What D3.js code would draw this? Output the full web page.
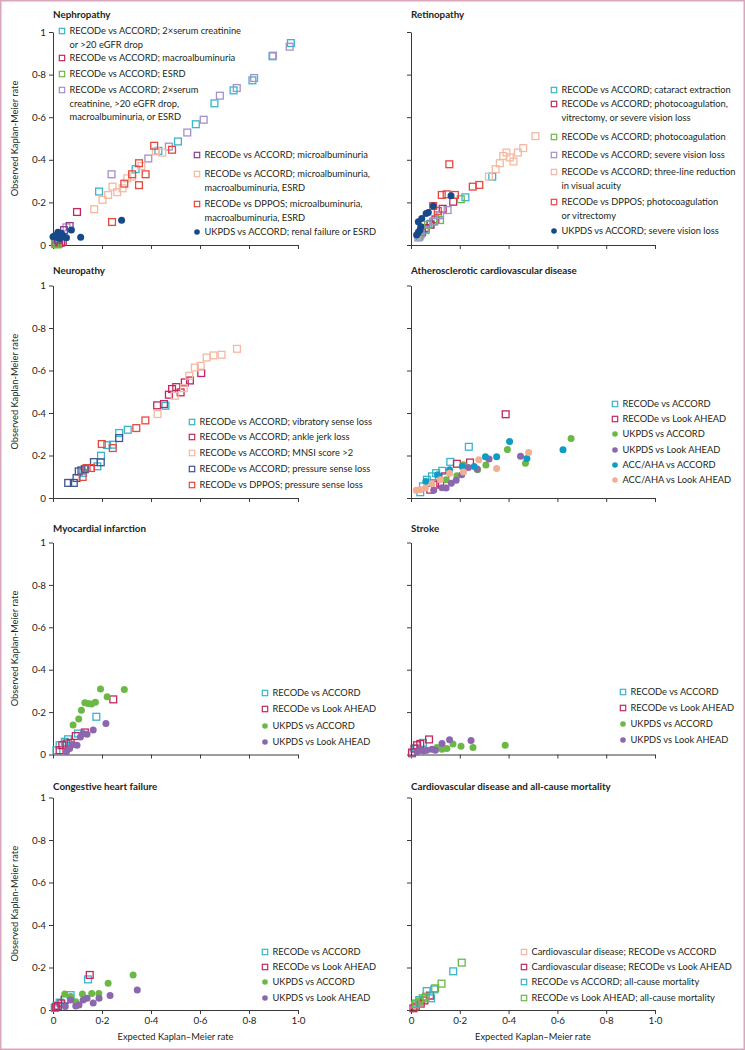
<!DOCTYPE html>
<html><head><meta charset="utf-8">
<script src="https://cdn.jsdelivr.net/npm/d3@7"></script>
<style>
html,body{margin:0;padding:0;background:#fff;}
svg{display:block;}
text{font-family:Lato,"Open Sans",sans-serif;fill:#231f20;}
</style></head>
<body>
<script>
// ---------- DATA (expected, observed) ----------
const xTicks = [0,0.2,0.4,0.6,0.8,1.0];
const yTicks = [0,0.2,0.4,0.6,0.8,1];
const xTickLabels = ["0","0·2","0·4","0·6","0·8","1·0"];
const yTickLabels = ["0","0·2","0·4","0·6","0·8","1"];

// Nephropathy
const nephCreatinine = [[0.971,0.948],[0.896,0.886],[0.814,0.773],[0.737,0.726],[0.659,0.665],[0.583,0.567],[0.510,0.486],[0.430,0.442],[0.337,0.356],[0.188,0.251],[0.020,0.030],[0.012,0.020]];
const nephMacro = [[0.098,0.155],[0.016,0.013],[0.025,0.008],[0.033,0.011],[0.022,0.020],[0.040,0.015],[0.010,0.006]];
const nephESRD = [[0.008,0.004],[0.015,0.006],[0.020,0.003]];
const nephComposite = [[0.966,0.931],[0.898,0.889],[0.821,0.784],[0.750,0.737],[0.681,0.701],[0.615,0.588],[0.548,0.528],[0.473,0.462],[0.389,0.406],[0.239,0.332],[0.055,0.083]];
const nephMicro = [[0.068,0.089],[0.045,0.070],[0.030,0.040],[0.020,0.025]];
const nephMicroMacro = [[0.168,0.168],[0.202,0.212],[0.225,0.235],[0.243,0.274],[0.262,0.248],[0.284,0.266],[0.303,0.313],[0.323,0.321],[0.361,0.371],[0.446,0.434],[0.420,0.440]];
const nephDPPOS = [[0.241,0.108],[0.291,0.288],[0.323,0.332],[0.351,0.384],[0.351,0.281],[0.378,0.332],[0.413,0.466],[0.486,0.447]];
const nephUKPDS = [[0.280,0.116],[0.113,0.036],[0.075,0.071],[0.055,0.034],[0.041,0.044],[0.020,0.060],[0.007,0.044],[0.027,0.031],[0.000,0.039],[0.034,0.055],[0.015,0.035]];

// Retinopathy
const retCataract = [[0.333,0.321],[0.223,0.224],[0.110,0.140],[0.080,0.100],[0.060,0.075],[0.045,0.060],[0.035,0.040]];
const retPhotoVitSev = [[0.173,0.203],[0.130,0.170],[0.100,0.120],[0.080,0.095],[0.060,0.080],[0.045,0.060]];
const retPhoto = [[0.204,0.215],[0.119,0.117],[0.091,0.110],[0.070,0.095],[0.057,0.070],[0.035,0.050]];
const retSevere = [[0.150,0.164],[0.119,0.140],[0.095,0.110],[0.060,0.070],[0.040,0.050],[0.030,0.035]];
const retThreeLine = [[0.510,0.511],[0.460,0.455],[0.438,0.434],[0.420,0.392],[0.405,0.411],[0.391,0.434],[0.378,0.418],[0.364,0.384],[0.347,0.356],[0.319,0.321]];
const retDPPOS = [[0.157,0.379],[0.280,0.282],[0.253,0.274],[0.126,0.235],[0.146,0.238],[0.180,0.235],[0.091,0.183],[0.110,0.160]];
const retUKPDS = [[0.164,0.231],[0.091,0.183],[0.071,0.152],[0.062,0.148],[0.044,0.125],[0.030,0.109],[0.040,0.086],[0.037,0.070],[0.023,0.047],[0.030,0.060]];

// Neuropathy
const neuVibratory = [[0.459,0.434],[0.305,0.321],[0.270,0.306],[0.244,0.251],[0.221,0.249],[0.196,0.199],[0.181,0.149],[0.123,0.118]];
const neuAnkle = [[0.605,0.588],[0.559,0.553],[0.538,0.544],[0.521,0.497],[0.503,0.522],[0.486,0.513],[0.473,0.486],[0.453,0.442],[0.425,0.436]];
const neuMNSI = [[0.751,0.702],[0.688,0.674],[0.655,0.671],[0.627,0.661],[0.603,0.622],[0.579,0.614],[0.556,0.575],[0.534,0.517],[0.497,0.481],[0.427,0.395]];
const neuPressure = [[0.270,0.282],[0.195,0.168],[0.167,0.169],[0.130,0.136],[0.116,0.130],[0.105,0.125],[0.096,0.094],[0.085,0.071],[0.062,0.071]];
const neuDPPOS = [[0.199,0.254],[0.244,0.235],[0.340,0.329],[0.377,0.365],[0.155,0.141],[0.121,0.099],[0.137,0.141]];

// Atherosclerotic cardiovascular disease
const ascRecAccord = [[0.237,0.241],[0.161,0.170],[0.128,0.128],[0.103,0.117],[0.086,0.102],[0.065,0.086],[0.049,0.055],[0.038,0.027]];
const ascRecLook = [[0.388,0.394],[0.242,0.167],[0.188,0.161],[0.140,0.102],[0.120,0.070],[0.099,0.063],[0.079,0.039]];
const ascUkAccord = [[0.656,0.280],[0.395,0.228],[0.469,0.164],[0.307,0.155],[0.273,0.133],[0.215,0.156],[0.188,0.105],[0.144,0.086]];
const ascUkLook = [[0.449,0.197],[0.320,0.184],[0.271,0.136],[0.235,0.144],[0.208,0.109],[0.185,0.083],[0.165,0.070],[0.144,0.047],[0.127,0.048],[0.093,0.036]];
const ascAhaAccord = [[0.404,0.266],[0.623,0.227],[0.475,0.186],[0.351,0.194],[0.305,0.194],[0.259,0.148],[0.210,0.148],[0.158,0.133],[0.109,0.109],[0.061,0.078]];
const ascAhaLook = [[0.482,0.214],[0.351,0.139],[0.278,0.180],[0.215,0.122],[0.158,0.117],[0.120,0.086],[0.086,0.067],[0.059,0.047],[0.038,0.039],[0.022,0.036]];

// Myocardial infarction
const miRecAccord = [[0.177,0.178],[0.102,0.099],[0.061,0.072],[0.048,0.060],[0.027,0.044],[0.014,0.020]];
const miRecLook = [[0.246,0.260],[0.130,0.104],[0.093,0.087],[0.072,0.055],[0.055,0.052],[0.038,0.044],[0.027,0.020]];
const miUkAccord = [[0.291,0.307],[0.194,0.309],[0.221,0.272],[0.173,0.246],[0.157,0.238],[0.143,0.241],[0.130,0.244],[0.116,0.209],[0.105,0.167],[0.082,0.139]];
const miUkLook = [[0.216,0.146],[0.164,0.115],[0.139,0.096],[0.123,0.099],[0.112,0.083],[0.098,0.044],[0.082,0.047],[0.068,0.028],[0.055,0.013]];

// Stroke
const stRecAccord = [[0.049,0.055],[0.020,0.028],[0.004,0.005]];
const stRecLook = [[0.074,0.071],[0.038,0.050],[0.025,0.044],[0.014,0.028],[0.004,0.009]];
const stUkAccord = [[0.386,0.044],[0.254,0.033],[0.205,0.039],[0.172,0.049],[0.147,0.028],[0.127,0.025],[0.106,0.033]];
const stUkLook = [[0.246,0.066],[0.158,0.069],[0.127,0.052],[0.100,0.020],[0.086,0.025],[0.065,0.020],[0.052,0.017],[0.038,0.020],[0.025,0.013]];

// Congestive heart failure
const hfRecAccord = [[0.143,0.144],[0.072,0.070],[0.048,0.050],[0.027,0.035],[0.014,0.020],[0.007,0.010]];
const hfRecLook = [[0.150,0.165],[0.048,0.047],[0.034,0.031],[0.020,0.019],[0.011,0.013]];
const hfUkAccord = [[0.327,0.165],[0.225,0.126],[0.187,0.078],[0.158,0.078],[0.120,0.075],[0.093,0.039],[0.072,0.063],[0.048,0.075]];
const hfUkLook = [[0.344,0.094],[0.233,0.068],[0.188,0.055],[0.164,0.033],[0.139,0.055],[0.123,0.047],[0.106,0.024],[0.093,0.019],[0.072,0.047],[0.050,0.016]];

// Cardiovascular disease and all-cause mortality
const cvdRecAccord = [[0.078,0.066],[0.054,0.055],[0.034,0.039],[0.018,0.024]];
const cvdRecLook = [[0.078,0.068],[0.010,0.008],[0.020,0.016],[0.040,0.030],[0.055,0.045]];
const mortRecAccord = [[0.173,0.182],[0.064,0.089],[0.095,0.097],[0.082,0.055],[0.034,0.047],[0.020,0.031]];
const mortRecLook = [[0.208,0.223],[0.125,0.124],[0.099,0.102],[0.061,0.063],[0.048,0.055],[0.034,0.039],[0.020,0.027]];

// ---------- STYLES ----------
const C = {
  cyan:"#38b4cd", crimson:"#c1285e", green:"#6cb845", lavender:"#a48fcb",
  plum:"#8c3c8c", peach:"#f5b8a1", red:"#e8473f", navy:"#17498a",
  slate:"#3f5592", purple:"#8d66b0", teal:"#0d9cc4", peachDot:"#f4ae93"
};
const FS_LEG = 9.3, FS_AX = 9.3, FS_TICK = 9.8, FS_TITLE = 9.8;

// ---------- LAYOUT ----------
const W = 745, H = 1050;
const cols = [[53,298],[411,655]];
const rows = [[245,32],[498,285.5],[754.5,542.5],[1010,797.5]];
const titleY = [15,271,529,787];

const panels = [
  {title:"Nephropathy", c:0, r:0, series:[
    {d:nephCreatinine,col:C.cyan,sh:"sq",lab:["RECODe vs ACCORD; 2×serum creatinine","or >20 eGFR drop"],lx:62,ly:31},
    {d:nephMacro,col:C.crimson,sh:"sq",lab:["RECODe vs ACCORD; macroalbuminuria"],lx:62,ly:58},
    {d:nephESRD,col:C.green,sh:"sq",lab:["RECODe vs ACCORD; ESRD"],lx:62,ly:74},
    {d:nephComposite,col:C.lavender,sh:"sq",lab:["RECODe vs ACCORD; 2×serum","creatinine, >20 eGFR drop,","macroalbuminuria, or ESRD"],lx:62,ly:90},
    {d:nephMicro,col:C.plum,sh:"sq",lab:["RECODe vs ACCORD; microalbuminuria"],lx:197,ly:155},
    {d:nephMicroMacro,col:C.peach,sh:"sq",lab:["RECODe vs ACCORD; microalbuminuria,","macroalbuminuria, ESRD"],lx:197,ly:174},
    {d:nephDPPOS,col:C.red,sh:"sq",lab:["RECODe vs DPPOS; microalbuminuria,","macroalbuminuria, ESRD"],lx:197,ly:204},
    {d:nephUKPDS,col:C.navy,sh:"dot",lab:["UKPDS vs ACCORD; renal failure or ESRD"],lx:197,ly:232}
  ]},
  {title:"Retinopathy", c:1, r:0, series:[
    {d:retCataract,col:C.cyan,sh:"sq",lab:["RECODe vs ACCORD; cataract extraction"],lx:554,ly:90},
    {d:retPhotoVitSev,col:C.crimson,sh:"sq",lab:["RECODe vs ACCORD; photocoagulation,","vitrectomy, or severe vision loss"],lx:554,ly:104},
    {d:retPhoto,col:C.green,sh:"sq",lab:["RECODe vs ACCORD; photocoagulation"],lx:554,ly:137},
    {d:retSevere,col:C.lavender,sh:"sq",lab:["RECODe vs ACCORD; severe vision loss"],lx:554,ly:155},
    {d:retThreeLine,col:C.peach,sh:"sq",lab:["RECODe vs ACCORD; three-line reduction","in visual acuity"],lx:554,ly:172},
    {d:retDPPOS,col:C.red,sh:"sq",lab:["RECODe vs DPPOS; photocoagulation","or vitrectomy"],lx:554,ly:202},
    {d:retUKPDS,col:C.navy,sh:"dot",lab:["UKPDS vs ACCORD; severe vision loss"],lx:554,ly:231}
  ]},
  {title:"Neuropathy", c:0, r:1, series:[
    {d:neuVibratory,col:C.cyan,sh:"sq",lab:["RECODe vs ACCORD; vibratory sense loss"],lx:192,ly:422},
    {d:neuAnkle,col:C.crimson,sh:"sq",lab:["RECODe vs ACCORD; ankle jerk loss"],lx:192,ly:437},
    {d:neuMNSI,col:C.peach,sh:"sq",lab:["RECODe vs ACCORD; MNSI score >2"],lx:192,ly:453},
    {d:neuPressure,col:C.slate,sh:"sq",lab:["RECODe vs ACCORD; pressure sense loss"],lx:192,ly:469},
    {d:neuDPPOS,col:C.red,sh:"sq",lab:["RECODe vs DPPOS; pressure sense loss"],lx:192,ly:485}
  ]},
  {title:"Atherosclerotic cardiovascular disease", c:1, r:1, series:[
    {d:ascRecAccord,col:C.cyan,sh:"sq",lab:["RECODe vs ACCORD"],lx:615,ly:404},
    {d:ascRecLook,col:C.crimson,sh:"sq",lab:["RECODe vs Look AHEAD"],lx:615,ly:419},
    {d:ascUkAccord,col:C.green,sh:"dot",lab:["UKPDS vs ACCORD"],lx:615,ly:434},
    {d:ascUkLook,col:C.purple,sh:"dot",lab:["UKPDS vs Look AHEAD"],lx:615,ly:450},
    {d:ascAhaAccord,col:C.teal,sh:"dot",lab:["ACC/AHA vs ACCORD"],lx:615,ly:465},
    {d:ascAhaLook,col:C.peachDot,sh:"dot",lab:["ACC/AHA vs Look AHEAD"],lx:615,ly:480}
  ]},
  {title:"Myocardial infarction", c:0, r:2, series:[
    {d:miRecAccord,col:C.cyan,sh:"sq",lab:["RECODe vs ACCORD"],lx:265,ly:693},
    {d:miRecLook,col:C.crimson,sh:"sq",lab:["RECODe vs Look AHEAD"],lx:265,ly:709},
    {d:miUkAccord,col:C.green,sh:"dot",lab:["UKPDS vs ACCORD"],lx:265,ly:726},
    {d:miUkLook,col:C.purple,sh:"dot",lab:["UKPDS vs Look AHEAD"],lx:265,ly:742}
  ]},
  {title:"Stroke", c:1, r:2, series:[
    {d:stRecAccord,col:C.cyan,sh:"sq",lab:["RECODe vs ACCORD"],lx:623,ly:692},
    {d:stRecLook,col:C.crimson,sh:"sq",lab:["RECODe vs Look AHEAD"],lx:623,ly:708},
    {d:stUkAccord,col:C.green,sh:"dot",lab:["UKPDS vs ACCORD"],lx:623,ly:724},
    {d:stUkLook,col:C.purple,sh:"dot",lab:["UKPDS vs Look AHEAD"],lx:623,ly:740}
  ]},
  {title:"Congestive heart failure", c:0, r:3, series:[
    {d:hfRecAccord,col:C.cyan,sh:"sq",lab:["RECODe vs ACCORD"],lx:265,ly:952},
    {d:hfRecLook,col:C.crimson,sh:"sq",lab:["RECODe vs Look AHEAD"],lx:265,ly:967},
    {d:hfUkAccord,col:C.green,sh:"dot",lab:["UKPDS vs ACCORD"],lx:265,ly:982},
    {d:hfUkLook,col:C.purple,sh:"dot",lab:["UKPDS vs Look AHEAD"],lx:265,ly:998}
  ]},
  {title:"Cardiovascular disease and all-cause mortality", c:1, r:3, series:[
    {d:cvdRecAccord,col:C.peach,sh:"sq",lab:["Cardiovascular disease; RECODe vs ACCORD"],lx:524,ly:952},
    {d:cvdRecLook,col:C.crimson,sh:"sq",lab:["Cardiovascular disease; RECODe vs Look AHEAD"],lx:524,ly:967},
    {d:mortRecAccord,col:C.cyan,sh:"sq",lab:["RECODe vs ACCORD;  all-cause mortality"],lx:524,ly:982},
    {d:mortRecLook,col:C.green,sh:"sq",lab:["RECODe vs Look AHEAD;  all-cause mortality"],lx:524,ly:998}
  ]}
];

const svg = d3.select("body").append("svg").attr("width",W).attr("height",H);

const fmtY = d=>yTickLabels[yTicks.indexOf(d)];
const fmtX = d=>xTickLabels[xTicks.indexOf(d)];

panels.forEach(p=>{
  const x = d3.scaleLinear().domain([0,1]).range(cols[p.c]);
  const y = d3.scaleLinear().domain([0,1]).range(rows[p.r]);
  const g = svg.append("g");

  g.append("text").attr("x",cols[p.c][0]).attr("y",titleY[p.r]).attr("dy","0.35em")
    .attr("font-size",FS_TITLE).attr("font-weight","bold").text(p.title);

  const ya = d3.axisLeft(y).tickValues(yTicks).tickSize(4).tickSizeOuter(0).tickPadding(3)
    .tickFormat(p.c===0?fmtY:()=> "");
  const yg = g.append("g").attr("transform",`translate(${cols[p.c][0]},0)`).call(ya);
  const xa = d3.axisBottom(x).tickValues(xTicks).tickSize(4).tickSizeOuter(0).tickPadding(3)
    .tickFormat(p.r===3?fmtX:()=> "");
  const xg = g.append("g").attr("transform",`translate(0,${rows[p.r][0]})`).call(xa);
  [yg,xg].forEach(a=>{
    a.selectAll("path,line").attr("stroke","#3a3a3a").attr("stroke-width",1);
    a.selectAll("text").attr("font-size",FS_TICK).attr("font-family","Lato,sans-serif").attr("fill","#231f20");
  });

  if(p.c===0){
    g.append("text").attr("transform",`translate(15,${(rows[p.r][0]+rows[p.r][1])/2}) rotate(-90)`)
      .attr("text-anchor","middle").attr("dy","0.35em").attr("font-size",FS_AX).text("Observed Kaplan-Meier rate");
  }
  if(p.r===3){
    g.append("text").attr("x",(cols[p.c][0]+cols[p.c][1])/2).attr("y",1037).attr("dy","0.35em")
      .attr("text-anchor","middle").attr("font-size",FS_AX).text("Expected Kaplan–Meier rate");
  }

  // marks
  p.series.forEach(s=>{
    if(s.sh==="sq"){
      g.append("g").selectAll("rect").data(s.d).join("rect")
        .attr("x",d=>x(d[0])-3.4).attr("y",d=>y(d[1])-3.4).attr("width",6.8).attr("height",6.8)
        .attr("fill","none").attr("stroke",s.col).attr("stroke-width",1.3);
    } else {
      g.append("g").selectAll("circle").data(s.d).join("circle")
        .attr("cx",d=>x(d[0])).attr("cy",d=>y(d[1])).attr("r",3.5).attr("fill",s.col);
    }
  });

  // legend
  p.series.forEach(s=>{
    if(s.sh==="sq"){
      g.append("rect").attr("x",s.lx-2.7).attr("y",s.ly-2.7).attr("width",5.4).attr("height",5.4)
        .attr("fill","none").attr("stroke",s.col).attr("stroke-width",1.2);
    } else {
      g.append("circle").attr("cx",s.lx).attr("cy",s.ly).attr("r",2.8).attr("fill",s.col);
    }
    s.lab.forEach((t,i)=>{
      g.append("text").attr("x",s.lx+7.5).attr("y",s.ly+i*13.3).attr("dy","0.35em")
        .attr("font-size",FS_LEG).text(t);
    });
  });
});

// frame
svg.append("rect").attr("x",0.75).attr("y",0.75).attr("width",W-1.5).attr("height",H-1.5)
  .attr("fill","none").attr("stroke","#d9a6bd").attr("stroke-width",1.5);
</script>
</body></html>
